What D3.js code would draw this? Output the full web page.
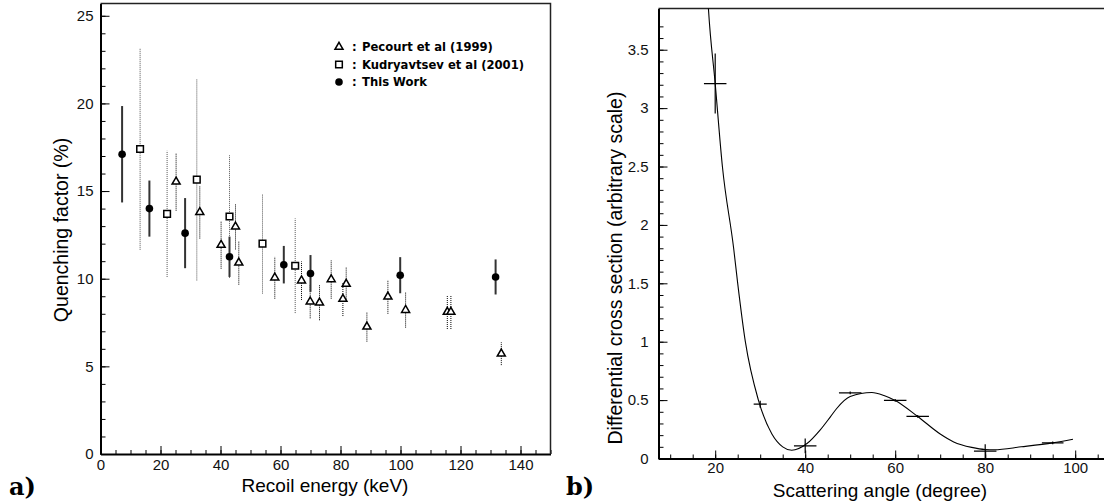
<!DOCTYPE html>
<html>
<head>
<meta charset="utf-8">
<script src="https://cdn.jsdelivr.net/npm/d3@7"></script>
<style>
body { margin: 0; background: #fff; }
svg { display: block; font-family: "Liberation Sans", Arial, sans-serif; }
</style>
</head>
<body>
<div id="chart"></div>
<script>
// ---- panel a) quenching factor vs recoil energy
const thisWorkEnergy = [7.2, 16.3, 28.2, 43, 61.1, 70, 99.9, 131.7];
const thisWorkQF = [17.1, 14.0, 12.6, 11.25, 10.8, 10.3, 10.2, 10.1];
const thisWorkErr = [2.75, 1.6, 2.0, 1.15, 1.07, 1.05, 1.03, 1.0];

const kudEnergy = [13.2, 22.2, 32.1, 43, 54, 64.9];
const kudQF = [17.4, 13.7, 15.65, 13.55, 12.0, 10.74];
const kudErr = [5.75, 3.6, 5.75, 3.5, 2.85, 2.7];

const pecEnergy = [25.2, 33.1, 40.2, 45, 46.1, 58.1, 67, 69.9, 73, 76.9, 80.8, 81.9, 88.8, 95.8, 101.7, 115.6, 116.8, 133.6];
const pecQF = [15.53, 13.79, 11.92, 12.97, 10.91, 10.06, 9.89, 8.69, 8.63, 9.96, 8.84, 9.7, 7.26, 8.97, 8.21, 8.1, 8.1, 5.72];
const pecErr = [1.65, 1.5, 1.35, 1.3, 1.25, 1.2, 1.1, 0.95, 1.0, 1.1, 0.97, 0.95, 0.85, 0.97, 1.0, 0.97, 0.97, 0.65];

const legendLabels = ["Pecourt et al (1999)", "Kudryavtsev et al (2001)", "This Work"];

const xTicksA = [0, 20, 40, 60, 80, 100, 120, 140];
const yTicksA = [0, 5, 10, 15, 20, 25];

// ---- panel b) differential cross section vs scattering angle
const angle = [20, 30, 40, 50, 60, 65, 80, 95];
const xsec = [3.21, 0.465, 0.108, 0.562, 0.497, 0.36, 0.0625, 0.134];
const angleErr = [2.5, 1.45, 2.5, 2.5, 2.5, 2.5, 2.5, 2.4];
const xsecErr = [0.257, 0.03, 0.064, 0.012, 0.012, 0.012, 0.06, 0.012];

const fitAngle = [18.2, 18.5, 20, 21.6, 24.1, 25.0, 26.7, 29.6, 32.6, 35, 37, 40.4, 43.3, 45.6, 47, 50, 54.8, 57.5, 60, 65, 70, 73, 77, 80, 82, 88, 95, 99.5];
const fitXsec = [4.05, 3.85, 3.21, 2.5, 1.8, 1.5, 1.0, 0.5, 0.21, 0.1, 0.071, 0.128, 0.243, 0.357, 0.428, 0.53, 0.565, 0.54, 0.497, 0.36, 0.21, 0.142, 0.095, 0.077, 0.075, 0.1, 0.134, 0.165];

const xTicksB = [20, 40, 60, 80, 100];
const yTicksB = [0, 0.5, 1, 1.5, 2, 2.5, 3, 3.5];

const svg = d3.select("#chart").append("svg")
  .attr("width", 1104)
  .attr("height", 504);

// draws ROOT-style axes with ticks pointing inside the frame
function drawAxes(x, y, xMajor, xMinor, yMajor, yMinor, yFmt, xPad, yPad) {
  const bottom = y.range()[0];
  const left = x.range()[0];

  const gx = svg.append("g")
    .attr("transform", `translate(0,${bottom})`)
    .call(d3.axisBottom(x).tickValues(xMajor).tickSizeInner(-8).tickSizeOuter(0).tickPadding(xPad));
  svg.append("g")
    .attr("transform", `translate(0,${bottom})`)
    .call(d3.axisBottom(x).tickValues(xMinor).tickSizeInner(-4).tickSizeOuter(0).tickFormat(""))
    .select(".domain").remove();

  const gy = svg.append("g")
    .attr("transform", `translate(${left},0)`)
    .call(d3.axisLeft(y).tickValues(yMajor).tickSizeInner(-9).tickSizeOuter(0).tickPadding(yPad).tickFormat(yFmt));
  svg.append("g")
    .attr("transform", `translate(${left},0)`)
    .call(d3.axisLeft(y).tickValues(yMinor).tickSizeInner(-5).tickSizeOuter(0).tickFormat(""))
    .select(".domain").remove();

  [gx, gy].forEach(g => {
    g.select(".domain").attr("stroke", "#000").attr("stroke-width", 2);
    g.selectAll("text").attr("font-size", 15).attr("fill", "#111")
      .attr("font-family", "'Liberation Sans', Arial, sans-serif");
  });
}

// ================= panel a =================
const xA = d3.scaleLinear().domain([0, 150]).range([100.5, 550.5]);
const yA = d3.scaleLinear().domain([0, 25.7]).range([454, 3.5]);

drawAxes(xA, yA, xTicksA, d3.range(0, 151, 5), yTicksA, d3.range(0, 26, 1), d3.format("d"), 5, 7);

// top and right border
svg.append("path")
  .attr("d", `M${xA(0)},${yA(25.7)}H${xA(150)}V${yA(0)}`)
  .attr("fill", "none").attr("stroke", "#222").attr("stroke-width", 1.5);

const pec = pecEnergy.map((e, i) => ({ e, q: pecQF[i], err: pecErr[i] }));
const kud = kudEnergy.map((e, i) => ({ e, q: kudQF[i], err: kudErr[i] }));
const mine = thisWorkEnergy.map((e, i) => ({ e, q: thisWorkQF[i], err: thisWorkErr[i] }));

// error bars
svg.append("g").selectAll("line").data(kud).join("line")
  .attr("x1", d => xA(d.e)).attr("x2", d => xA(d.e))
  .attr("y1", d => yA(d.q - d.err)).attr("y2", d => yA(d.q + d.err))
  .attr("stroke", "#555").attr("stroke-width", 1).attr("stroke-dasharray", "1,1");
svg.append("g").selectAll("line").data(pec).join("line")
  .attr("x1", d => xA(d.e)).attr("x2", d => xA(d.e))
  .attr("y1", d => yA(d.q - d.err)).attr("y2", d => yA(d.q + d.err))
  .attr("stroke", "#000").attr("stroke-width", 1).attr("stroke-dasharray", "1,1");
svg.append("g").selectAll("line").data(mine).join("line")
  .attr("x1", d => xA(d.e)).attr("x2", d => xA(d.e))
  .attr("y1", d => yA(d.q - d.err)).attr("y2", d => yA(d.q + d.err))
  .attr("stroke", "#333").attr("stroke-width", 2);

// markers
const triangle = d3.symbol(d3.symbolTriangle, 28);
const square = d3.symbol(d3.symbolSquare, 44);

svg.append("g").selectAll("path").data(kud).join("path")
  .attr("d", square)
  .attr("transform", d => `translate(${xA(d.e)},${yA(d.q)})`)
  .attr("fill", "#fff").attr("stroke", "#000").attr("stroke-width", 1.5);
svg.append("g").selectAll("path").data(pec).join("path")
  .attr("d", triangle)
  .attr("transform", d => `translate(${xA(d.e)},${yA(d.q)})`)
  .attr("fill", "#fff").attr("stroke", "#000").attr("stroke-width", 1.5);
svg.append("g").selectAll("circle").data(mine).join("circle")
  .attr("cx", d => xA(d.e)).attr("cy", d => yA(d.q))
  .attr("r", 3.8).attr("fill", "#000");

// legend
const legend = svg.append("g").attr("transform", "translate(339,47)");
legendLabels.forEach((label, i) => {
  const row = legend.append("g").attr("transform", `translate(0,${i * 17.5})`);
  if (i === 0) row.append("path").attr("d", triangle).attr("fill", "#fff").attr("stroke", "#000").attr("stroke-width", 1.5);
  if (i === 1) row.append("path").attr("d", square).attr("fill", "#fff").attr("stroke", "#000").attr("stroke-width", 1.5);
  if (i === 2) row.append("circle").attr("r", 3.8).attr("fill", "#000");
  row.append("text")
    .attr("x", 13).attr("y", 4.3)
    .attr("font-family", "'DejaVu Sans', sans-serif")
    .attr("font-size", 11.6).attr("font-weight", "bold")
    .text(":");
  row.append("text")
    .attr("x", 23).attr("y", 4.3)
    .attr("font-family", "'DejaVu Sans', sans-serif")
    .attr("font-size", 11.6).attr("font-weight", "bold")
    .text(label);
});

// axis titles
svg.append("text")
  .attr("x", 325).attr("y", 492)
  .attr("text-anchor", "middle").attr("font-size", 19)
  .text("Recoil energy (keV)");
svg.append("text")
  .attr("transform", "translate(68,230) rotate(-90)")
  .attr("text-anchor", "middle").attr("font-size", 19.5)
  .text("Quenching factor (%)");

svg.append("text")
  .attr("x", 9).attr("y", 495)
  .attr("font-family", "'DejaVu Serif', serif").attr("font-weight", "bold").attr("font-size", 24)
  .text("a)");

// ================= panel b =================
const xB = d3.scaleLinear().domain([7.4, 110]).range([658.5, 658.5 + 102.6 * 4.5]);
const yB = d3.scaleLinear().domain([0, 3.853]).range([458.5, 8.5]);

drawAxes(xB, yB, xTicksB, d3.range(10, 111, 5), yTicksB, d3.range(0, 38).map(d => d / 10), d => String(d), 4, 10);

svg.append("line")
  .attr("x1", xB.range()[0]).attr("x2", 1104)
  .attr("y1", yB(3.853)).attr("y2", yB(3.853))
  .attr("stroke", "#222").attr("stroke-width", 1.5);

svg.append("clipPath").attr("id", "clipB")
  .append("rect")
  .attr("x", xB.range()[0]).attr("y", yB.range()[1])
  .attr("width", 1104 - xB.range()[0]).attr("height", yB.range()[0] - yB.range()[1]);

const fitLine = d3.line()
  .x((d, i) => xB(fitAngle[i]))
  .y(d => yB(d))
  .curve(d3.curveMonotoneX);

svg.append("path")
  .datum(fitXsec)
  .attr("clip-path", "url(#clipB)")
  .attr("d", fitLine)
  .attr("fill", "none").attr("stroke", "#000").attr("stroke-width", 1.1);

const pts = angle.map((a, i) => ({ a, v: xsec[i], ea: angleErr[i], ev: xsecErr[i] }));
const crosses = svg.append("g").attr("clip-path", "url(#clipB)");
crosses.selectAll(".h").data(pts).join("line")
  .attr("x1", d => xB(d.a - d.ea)).attr("x2", d => xB(d.a + d.ea))
  .attr("y1", d => yB(d.v)).attr("y2", d => yB(d.v))
  .attr("stroke", "#000").attr("stroke-width", 1.2);
crosses.selectAll(".v").data(pts).join("line")
  .attr("x1", d => xB(d.a)).attr("x2", d => xB(d.a))
  .attr("y1", d => yB(d.v - d.ev)).attr("y2", d => yB(d.v + d.ev))
  .attr("stroke", "#000").attr("stroke-width", 1.2);

svg.append("text")
  .attr("x", 880).attr("y", 497)
  .attr("text-anchor", "middle").attr("font-size", 19)
  .text("Scattering angle (degree)");
svg.append("text")
  .attr("transform", "translate(622,268) rotate(-90)")
  .attr("text-anchor", "middle").attr("font-size", 19.5)
  .text("Differential cross section (arbitrary scale)");

svg.append("text")
  .attr("x", 566).attr("y", 495)
  .attr("font-family", "'DejaVu Serif', serif").attr("font-weight", "bold").attr("font-size", 24)
  .text("b)");
</script>
</body>
</html>
